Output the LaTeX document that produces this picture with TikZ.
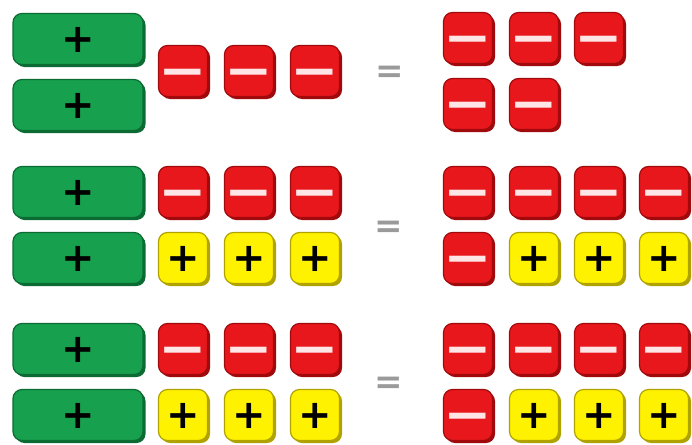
\documentclass[tikz,border=0pt]{standalone}
\usepackage{fontspec}
\usepackage{graphicx}
\setmainfont{DejaVu Sans}
\usetikzlibrary{shadows}
\definecolor{tilered}{HTML}{E8171B}
\definecolor{tilereddark}{HTML}{A00A0C}
\definecolor{tileyellow}{HTML}{FFF200}
\definecolor{tileyellowdark}{HTML}{B0A200}
\definecolor{tilegreen}{HTML}{17A14F}
\definecolor{tilegreendark}{HTML}{0B6B33}
\definecolor{minuswhite}{HTML}{FFE6E6}
\definecolor{eqgray}{HTML}{9A9A9A}

\newcommand\minusbar{\raisebox{-4.1pt}{\scalebox{1.45}[1.3]{−}}}

\tikzset{
  tile/.style={rounded corners=9pt, minimum width=49pt, minimum height=51pt,
    inner sep=0pt, line width=1.2pt, text height=27.2pt, text depth=0pt,
    font=\fontsize{40}{40}\selectfont\bfseries},
  negtile/.style={tile, fill=tilered, draw=tilereddark, text=minuswhite,
    drop shadow={shadow xshift=2.5pt, shadow yshift=-2.5pt, fill=tilereddark, opacity=1}},
  postile/.style={tile, fill=tileyellow, draw=tileyellowdark, text=black,
    drop shadow={shadow xshift=2.5pt, shadow yshift=-2.5pt, fill=tileyellowdark, opacity=1}},
  posbar/.style={tile, minimum width=130pt, fill=tilegreen, draw=tilegreendark, text=black,
    drop shadow={shadow xshift=2.5pt, shadow yshift=-2.5pt, fill=tilegreendark, opacity=1}},
  eqsign/.style={inner sep=0pt, text=eqgray, font=\fontsize{34}{34}\selectfont\bfseries}
}

\begin{document}
\begin{tikzpicture}[x=1pt,y=-1pt]
  \useasboundingbox (0,0) rectangle (692,444);
  % first line: 2 green, 3 red
  \node[posbar] (bar1a) at (78,39) {+};
  \node[posbar] (bar1b) at (78,105) {+};
  \foreach \i/\x in {1/183,2/249,3/315}
    \node[negtile] (neg1-\i) at (\x,71) {\minusbar};
  \node[eqsign] (eq1) at (390,74) {=};
  \foreach \i/\x in {1/468,2/534,3/599}
    \node[negtile] (res1a-\i) at (\x,38) {\minusbar};
  \foreach \i/\x in {1/468,2/534}
    \node[negtile] (res1b-\i) at (\x,104) {\minusbar};
  % second and third line: 2 green, 3 red, 3 yellow
  \foreach \r/\y/\e in {2/192/229,3/349/385}{
    \node[posbar] (bar\r a) at (78,\y) {+};
    \node[posbar] (bar\r b) at (78,\y+66) {+};
    \foreach \i/\x in {1/183,2/249,3/315}{
      \node[negtile] (neg\r-\i) at (\x,\y) {\minusbar};
      \node[postile] (pos\r-\i) at (\x,\y+66) {+};
    }
    \node[eqsign] (eq\r) at (389,\e) {=};
    \foreach \i/\x in {1/468,2/534,3/599,4/664}
      \node[negtile] (res\r a-\i) at (\x,\y) {\minusbar};
    \node[negtile] (res\r b-1) at (468,\y+66) {\minusbar};
    \foreach \i/\x in {2/534,3/599,4/664}
      \node[postile] (res\r b-\i) at (\x,\y+66) {+};
  }
\end{tikzpicture}
\end{document}
